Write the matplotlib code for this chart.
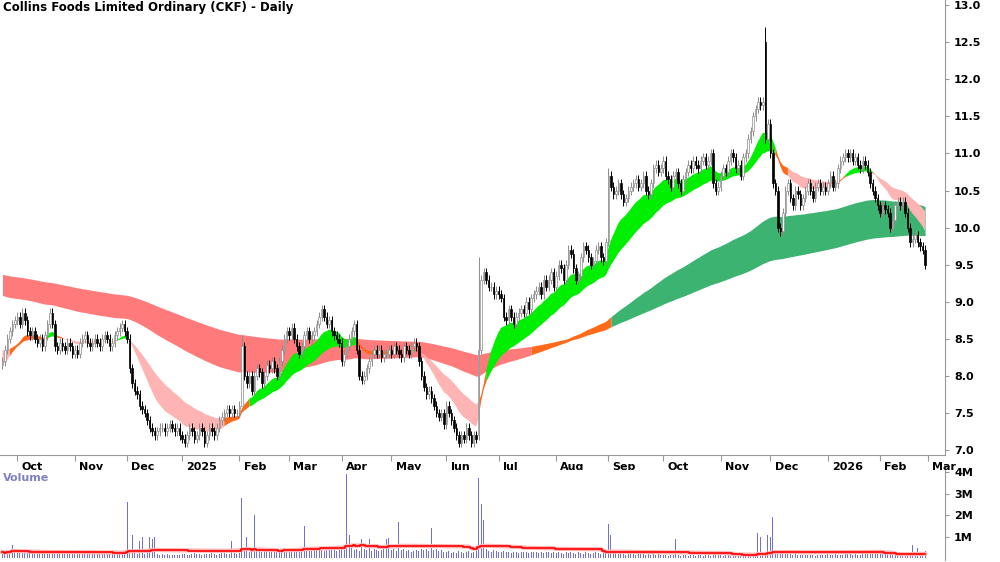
import numpy as np
import pandas as pd
import matplotlib.pyplot as plt
import matplotlib.transforms as mtransforms

TITLE = "Collins Foods Limited Ordinary (CKF) - Daily"

# daily closes grouped by month; the label is drawn at the start of the month
months = ["", "Oct", "Nov", "Dec", "2025", "Feb", "Mar", "Apr", "May", "Jun", "Jul",
          "Aug", "Sep", "Oct", "Nov", "Dec", "2026", "Feb"]
closes = [
    [8.2, 8.35, 8.5, 8.6, 8.7, 8.75],
    [8.8, 8.7, 8.85, 8.75, 8.6, 8.55, 8.6, 8.5, 8.45, 8.5, 8.4, 8.55, 8.7, 8.85, 8.7, 8.4, 8.35, 8.45, 8.4, 8.35, 8.45, 8.4, 8.3],
    [8.35, 8.3, 8.45, 8.5, 8.55, 8.45, 8.4, 8.45, 8.5, 8.45, 8.4, 8.5, 8.55, 8.5, 8.4, 8.45, 8.55, 8.6, 8.65, 8.7, 8.6],
    [8.5, 8.1, 7.9, 7.8, 7.75, 7.6, 7.55, 7.5, 7.4, 7.3, 7.25, 7.2, 7.25, 7.3, 7.3, 7.25, 7.3, 7.35, 7.3, 7.25, 7.3, 7.2],
    [7.15, 7.1, 7.2, 7.3, 7.25, 7.15, 7.2, 7.3, 7.25, 7.1, 7.2, 7.3, 7.25, 7.2, 7.3, 7.4, 7.45, 7.5, 7.55, 7.5, 7.55, 7.5, 7.5],
    [7.6, 8.4, 8.0, 7.9, 8.0, 7.8, 8.0, 8.1, 8.05, 7.9, 8.0, 8.15, 8.1, 8.2, 8.1, 8.0, 8.2, 8.35, 8.5, 8.6],
    [8.55, 8.65, 8.5, 8.4, 8.3, 8.4, 8.55, 8.6, 8.5, 8.55, 8.6, 8.7, 8.8, 8.9, 8.8, 8.7, 8.75, 8.6, 8.55, 8.5, 8.45],
    [8.2, 8.3, 8.4, 8.5, 8.6, 8.7, 8.35, 8.0, 7.95, 8.0, 8.1, 8.2, 8.3, 8.35, 8.3, 8.35, 8.25, 8.3, 8.3, 8.35],
    [8.3, 8.4, 8.35, 8.3, 8.25, 8.4, 8.35, 8.3, 8.4, 8.45, 8.4, 8.2, 8.0, 7.85, 7.75, 7.8, 7.7, 7.6, 7.5, 7.45, 7.5, 7.35],
    [7.6, 7.5, 7.4, 7.3, 7.2, 7.1, 7.2, 7.15, 7.3, 7.2, 7.1, 7.2, 7.15, 8.35, 9.3, 9.4, 9.3, 9.2, 9.2, 9.1, 9.15],
    [9.1, 9.05, 8.8, 8.75, 8.9, 8.8, 8.7, 8.8, 8.85, 8.9, 8.85, 9.0, 8.9, 9.05, 9.1, 9.15, 9.2, 9.1, 9.3, 9.2, 9.3, 9.4, 9.2],
    [9.35, 9.5, 9.45, 9.3, 9.5, 9.7, 9.65, 9.45, 9.3, 9.35, 9.6, 9.75, 9.7, 9.6, 9.5, 9.55, 9.7, 9.75, 9.6, 9.55, 9.8],
    [10.7, 10.55, 10.45, 10.5, 10.6, 10.45, 10.35, 10.4, 10.5, 10.55, 10.6, 10.65, 10.55, 10.6, 10.7, 10.5, 10.45, 10.6, 10.8, 10.85, 10.75, 10.8],
    [10.9, 10.7, 10.65, 10.55, 10.7, 10.75, 10.6, 10.5, 10.65, 10.75, 10.85, 10.8, 10.9, 10.85, 10.8, 10.9, 10.95, 10.85, 10.9, 11.0, 10.6, 10.5, 10.55],
    [10.7, 10.8, 10.75, 10.9, 11.0, 10.95, 10.8, 10.85, 10.7, 10.95, 11.0, 11.2, 11.3, 11.5, 11.6, 11.7, 11.65, 11.7, 11.2, 11.4],
    [11.0, 10.6, 10.5, 10.0, 9.95, 10.2, 10.5, 10.6, 10.4, 10.3, 10.5, 10.45, 10.3, 10.4, 10.5, 10.6, 10.5, 10.4, 10.55, 10.6, 10.5, 10.55, 10.5],
    [10.6, 10.7, 10.55, 10.6, 10.8, 10.9, 10.95, 11.0, 10.95, 11.0, 10.9, 10.95, 10.85, 10.8, 10.9, 10.85, 10.75, 10.6, 10.5, 10.4, 10.3],
    [10.2, 10.3, 10.25, 10.2, 10.0, 10.1, 10.3, 10.35, 10.3, 10.35, 10.2, 10.0, 9.8, 9.85, 9.9, 9.8, 9.75, 9.7, 9.5],
]
# volume in thousands, same grouping
volumes = [
    [300, 250, 280, 320, 600, 300],
    [350, 300, 250, 320, 280, 300, 250, 240, 300, 260, 280, 300, 250, 240, 330, 300, 260, 280, 240, 250, 300, 240, 260],
    [250, 220, 280, 260, 240, 250, 230, 240, 260, 280, 240, 220, 250, 240, 280, 260, 240, 250, 280, 240, 260],
    [2600, 400, 1100, 250, 220, 800, 1000, 220, 250, 1000, 900, 1000, 200, 180, 220, 160, 200, 180, 160, 150, 170, 160],
    [200, 220, 180, 170, 200, 260, 220, 200, 180, 190, 200, 210, 260, 190, 180, 200, 230, 260, 200, 210, 800, 230, 200],
    [250, 2800, 350, 1000, 300, 450, 2000, 500, 350, 300, 400, 350, 300, 450, 350, 300, 400, 450, 500, 350],
    [400, 450, 350, 400, 500, 450, 1500, 400, 450, 350, 400, 450, 500, 400, 350, 400, 450, 500, 400, 350, 400],
    [450, 400, 3900, 1100, 500, 400, 450, 350, 900, 450, 400, 900, 350, 450, 400, 350, 400, 450, 900, 950],
    [400, 450, 350, 1700, 400, 450, 350, 400, 300, 350, 400, 350, 450, 400, 450, 350, 1400, 400, 450, 350, 400, 300],
    [300, 350, 250, 300, 250, 350, 300, 250, 300, 350, 250, 300, 350, 3700, 2500, 1800, 450, 350, 300, 400, 350],
    [300, 280, 350, 300, 280, 250, 280, 300, 250, 280, 300, 280, 250, 280, 300, 280, 250, 280, 250, 300, 280, 250, 280],
    [250, 300, 250, 220, 300, 250, 320, 250, 220, 300, 250, 220, 300, 250, 220, 250, 300, 250, 220, 250, 300],
    [1600, 1100, 300, 250, 220, 250, 220, 180, 220, 250, 220, 180, 220, 250, 220, 180, 220, 180, 220, 180, 220, 180],
    [160, 140, 120, 160, 140, 900, 160, 120, 140, 160, 120, 140, 160, 120, 140, 160, 120, 140, 160, 120, 250, 160, 140],
    [140, 120, 160, 140, 120, 140, 160, 120, 140, 160, 120, 140, 160, 200, 160, 1200, 1000, 250, 300, 1100],
    [1000, 1900, 400, 350, 300, 250, 220, 250, 220, 180, 200, 180, 160, 180, 150, 160, 180, 150, 120, 150, 160, 150, 160],
    [200, 180, 160, 200, 180, 160, 180, 200, 220, 200, 180, 200, 160, 180, 200, 220, 200, 240, 220, 200, 220],
    [240, 200, 220, 200, 240, 220, 200, 180, 200, 220, 240, 200, 220, 600, 240, 500, 260, 240, 350],
]
# (month group, day in group): value — gap days and the spike
open_override = {(9, 13): 7.2, (14, 18): 12.5}
high_override = {(9, 13): 9.6, (14, 18): 12.7, (12, 0): 10.8, (5, 1): 8.55}
low_override = {(12, 0): 9.75, (5, 1): 7.65, (9, 14): 8.3}
# EMA seeds from the history before the visible window
short_periods = [15, 18, 22, 26, 30, 35]
long_periods = [125, 145, 165, 190, 215, 245]
short_seed = [8.15, 8.18, 8.22, 8.26, 8.3, 8.35]
long_seed = [9.1, 9.16, 9.22, 9.28, 9.33, 9.38]

close = np.concatenate([np.array(c, float) for c in closes])
vol = np.concatenate([np.array(v, float) for v in volumes]) / 1000.0
n = len(close)
x = np.arange(n)
starts = np.cumsum([0] + [len(c) for c in closes])

opn = np.r_[close[0] - 0.05, close[:-1]]
for (g, d), v in open_override.items():
    opn[starts[g] + d] = v
hi = np.maximum(opn, close) + 0.06
lo = np.minimum(opn, close) - 0.06
for (g, d), v in high_override.items():
    hi[starts[g] + d] = v
for (g, d), v in low_override.items():
    lo[starts[g] + d] = v

def emas(periods, seeds):
    out = []
    for p, s in zip(periods, seeds):
        a = 2.0 / (p + 1)
        e = np.empty(n)
        prev = s
        for i in range(n):
            prev = prev + a * (close[i] - prev)
            e[i] = prev
        out.append(e)
    return np.array(out)

S = emas(short_periods, short_seed)
L = emas(long_periods, long_seed)

fig = plt.figure(figsize=(10, 5.62), dpi=100)
ax = fig.add_axes([0.0, 0.19, 0.945, 0.81])
axv = fig.add_axes([0.0, 0.004, 0.945, 0.16])

def band(a, E, up, down, mid):
    lo_b, hi_b = E.min(axis=0), E.max(axis=0)
    rising = np.all(np.diff(E, axis=0) < 0, axis=0)   # fast above slow
    falling = np.all(np.diff(E, axis=0) > 0, axis=0)
    other = ~(rising | falling)
    for m, col in ((rising, up), (falling, down), (other, mid)):
        mm = m | np.r_[m[1:], False]
        a.fill_between(x, lo_b, hi_b, where=mm, color=col, lw=0, zorder=1)

band(ax, L, "#3cb371", "#ff7b7b", "#ff6a1a")
band(ax, S, "#00ee00", "#ffb4b4", "#ff6a1a")

up = close >= opn
ax.vlines(x, lo, hi, color=np.where(up, "#8c8c8c", "black"), lw=0.7, zorder=2)
ax.bar(x[up], (close - opn)[up], bottom=opn[up], width=0.6, color="white",
       edgecolor="#8c8c8c", lw=0.5, zorder=3)
ax.bar(x[~up], (opn - close)[~up], bottom=close[~up], width=0.6, color="black",
       edgecolor="black", lw=0.5, zorder=3)

ax.set_xlim(-1, n + 7)
ax.set_ylim(6.93, 13.07)
ax.yaxis.tick_right()
ax.set_yticks(np.arange(7.0, 13.01, 0.5))
ax.set_yticklabels([f"{v:.1f}" for v in np.arange(7.0, 13.01, 0.5)])
for s in ("top", "left"):
    ax.spines[s].set_visible(False)
ax.spines["right"].set_color("#999999")
ax.spines["bottom"].set_color("#999999")
ax.tick_params(axis="y", labelsize=8, length=3, colors="#999999", labelcolor="black")
tick_pos = list(starts[1:-1]) + [n]
ax.set_xticks(tick_pos)
ax.set_xticklabels([])
ax.tick_params(axis="x", length=4, colors="#999999")
off = mtransforms.offset_copy(ax.get_xaxis_transform(), fig=fig, x=3, y=-12, units="points")
for p, lab in zip(tick_pos, months[1:] + ["Mar"]):
    ax.text(p, 0, lab, transform=off, fontsize=8, fontweight="bold", ha="left", va="bottom")
for t in ax.get_yticklabels():
    t.set_fontweight("bold")
ax.text(0.003, 0.997, TITLE, transform=ax.transAxes, fontsize=8.5, fontweight="bold",
        va="top", ha="left")

axv.bar(x, vol, width=0.4, color="#7070d8", zorder=2)
ma = pd.Series(vol).rolling(50, min_periods=1).mean()
axv.plot(x, ma, color="#ffb0b0", lw=3, zorder=3)
axv.plot(x, ma, color="red", lw=1.2, drawstyle="steps-mid", zorder=4)
axv.set_xlim(ax.get_xlim())
axv.set_ylim(-0.06, 4.1)
axv.yaxis.tick_right()
axv.set_yticks([1, 2, 3, 4])
axv.set_yticklabels(["1M", "2M", "3M", "4M"])
axv.tick_params(axis="y", labelsize=8, length=3, colors="#999999", labelcolor="black")
for t in axv.get_yticklabels():
    t.set_fontweight("bold")
axv.set_xticks([])
for s in ("top", "left", "bottom"):
    axv.spines[s].set_visible(False)
axv.spines["right"].set_color("#999999")
axv.text(0.003, 0.97, "Volume", transform=axv.transAxes, fontsize=8, fontweight="bold",
         color="#8080c0", va="top")

fig.savefig("out.png", dpi=100)
